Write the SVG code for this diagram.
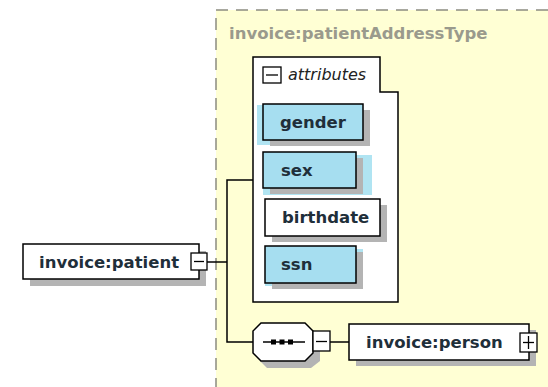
<svg xmlns="http://www.w3.org/2000/svg" width="548" height="387" viewBox="0 0 548 387">
<style>
.lbl{font-family:"DejaVu Sans",Verdana,sans-serif;font-weight:bold;font-size:16.5px;fill:#1f2f3a}
.box{stroke:#000;stroke-width:1.5}
.sh{fill:#b4b4b4}
.halo{fill:#b0e4f2}
.blue{fill:#a6def0}
.wire{fill:none;stroke:#000;stroke-width:1.5}
.btn{fill:#fff;stroke:#000;stroke-width:1.3}
</style>
<rect x="0" y="0" width="548" height="387" fill="#fff"/>
<g id="type">
<rect x="216" y="10" width="340" height="390" fill="#ffffd4" stroke="#8c8c80" stroke-width="1.5" stroke-dasharray="12,8"/>
<text x="229" y="39" font-family="DejaVu Sans,Verdana,sans-serif" font-weight="bold" font-size="16.5" fill="#9a9a8c">invoice:patientAddressType</text>
</g>
<g id="attributes">
<path d="M253,57 H380 V92 H398 V302 H253 Z" fill="#fff" stroke="#000" stroke-width="1.5"/>
<rect x="263" y="67" width="18" height="16" class="btn"/>
<line x1="266" y1="75" x2="278" y2="75" stroke="#000" stroke-width="1.3"/>
<text x="288" y="80" font-family="DejaVu Sans,Verdana,sans-serif" font-style="italic" font-size="16" fill="#222">attributes</text>
</g>
<g id="gender">
<rect x="257" y="105" width="100" height="40" class="halo"/>
<rect x="270" y="110" width="100" height="36" class="sh"/>
<rect x="263" y="104" width="100" height="36" class="box blue"/>
<text x="280" y="128" class="lbl">gender</text>
</g>
<g id="sex">
<rect x="263" y="155" width="109" height="40" class="halo"/>
<rect x="270" y="158" width="93" height="36" class="sh"/>
<rect x="263" y="152" width="93" height="36" class="box blue"/>
<text x="281" y="176" class="lbl">sex</text>
</g>
<g id="birthdate">
<rect x="272" y="205" width="115" height="37" class="sh"/>
<rect x="265" y="199" width="115" height="37" class="box" fill="#fff"/>
<text x="282" y="223" class="lbl">birthdate</text>
</g>
<g id="ssn">
<rect x="265" y="249" width="98" height="37" class="halo"/>
<rect x="272" y="252" width="91" height="37" class="sh"/>
<rect x="265" y="246" width="91" height="37" class="box blue"/>
<text x="281" y="270" class="lbl">ssn</text>
</g>
<g id="patient">
<rect x="30" y="251" width="176" height="35" class="sh"/>
<rect x="23" y="244" width="176" height="35" class="box" fill="#fff"/>
<text x="39" y="268" class="lbl">invoice:patient</text>
<rect x="191" y="253" width="16" height="17" class="btn"/>
<line x1="194" y1="261.5" x2="204" y2="261.5" stroke="#000" stroke-width="1.3"/>
</g>
<g id="sequence">
<path d="M267,330 H311 L320,339 V361 L311,368 H267 L260,361 V339 Z" class="sh"/>
<path d="M261,323 H305 L313,331 V353 L305,361 H261 L253,353 V331 Z" fill="#fff" stroke="#000" stroke-width="1.5"/>
<line x1="263" y1="342" x2="305" y2="342" stroke="#000" stroke-width="1.5"/>
<rect x="271" y="339.5" width="5" height="5" fill="#000"/>
<rect x="279.5" y="339.5" width="5" height="5" fill="#000"/>
<rect x="288" y="339.5" width="5" height="5" fill="#000"/>
<rect x="313" y="331" width="17" height="20" class="btn"/>
<line x1="316" y1="341.5" x2="327" y2="341.5" stroke="#000" stroke-width="1.3"/>
</g>
<g id="person">
<rect x="356" y="330" width="180" height="36" class="sh"/>
<rect x="349" y="324" width="180" height="36" class="box" fill="#fff"/>
<text x="366" y="348" class="lbl">invoice:person</text>
<rect x="520" y="333" width="17" height="19" class="btn"/>
<line x1="523" y1="342.5" x2="534" y2="342.5" stroke="#000" stroke-width="1.3"/>
<line x1="528.5" y1="336" x2="528.5" y2="349" stroke="#000" stroke-width="1.3"/>
</g>
<g id="connectors">
<path d="M207,262 H227" class="wire"/>
<path d="M253,180 H227 V342 H253" class="wire"/>
<path d="M330,342 H349" class="wire"/>
</g>
</svg>
